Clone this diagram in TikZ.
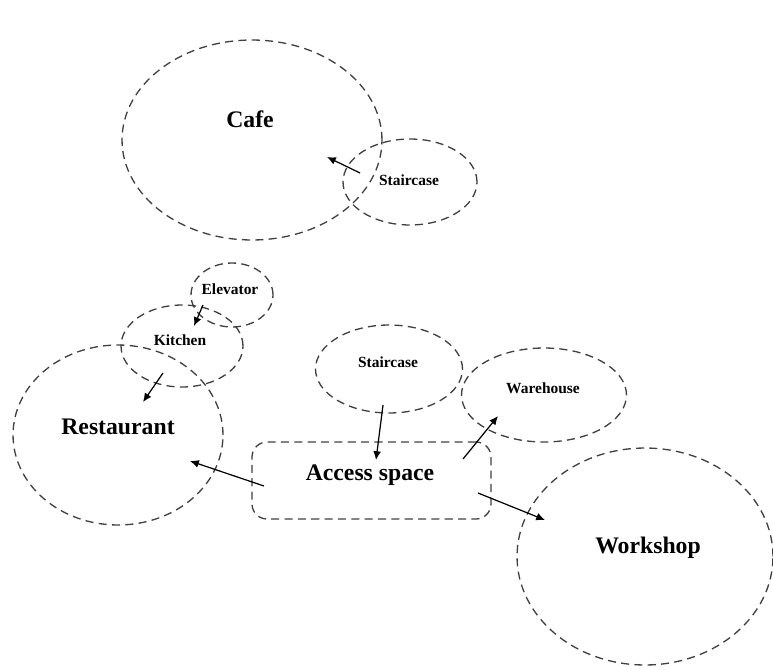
\documentclass[tikz,border=0pt]{standalone}
\usepackage{fontspec}
\setmainfont{Liberation Serif}
\usetikzlibrary{shapes.geometric,arrows.meta}
\tikzset{
  bubble/.style={draw=black!75, ellipse, inner sep=0pt, line width=0.75pt, dash pattern=on 4.6pt off 3pt},
  room/.style={draw=black!75, rectangle, rounded corners=0.3cm, inner sep=0pt, line width=0.75pt, dash pattern=on 4.6pt off 3pt},
  bigtxt/.style={font=\fontsize{13.5}{16}\selectfont\bfseries},
  smalltxt/.style={font=\fontsize{8.8}{10}\selectfont\bfseries},
  arr/.style={-{Latex[length=5pt,width=4.5pt]}, line width=0.7pt}
}
\begin{document}
\begin{tikzpicture}[x=0.02cm,y=-0.02cm]
\useasboundingbox (0,0) rectangle (773,669);
\node[bubble, minimum width=5.2cm, minimum height=4cm] (cafe) at (252,140) {};
\node[bubble, minimum width=2.68cm, minimum height=1.72cm] (stairA) at (410,182) {};
\node[bubble, minimum width=1.64cm, minimum height=1.28cm] (elevator) at (232,295) {};
\node[bubble, minimum width=2.44cm, minimum height=1.64cm] (kitchen) at (182,346) {};
\node[bubble, minimum width=4.2cm, minimum height=3.6cm] (restaurant) at (118,435) {};
\node[bubble, minimum width=2.94cm, minimum height=1.76cm] (stairB) at (389,369) {};
\node[bubble, minimum width=3.3cm, minimum height=1.88cm] (warehouse) at (544,395) {};
\node[room, minimum width=4.78cm, minimum height=1.54cm] (access) at (371.5,480.5) {};
\node[bubble, minimum width=5.12cm, minimum height=4.34cm] (workshop) at (645,556.5) {};
\node[bigtxt] (cafetxt) at (250,119) {Cafe};
\node[smalltxt] (stairAtxt) at (409,180) {Staircase};
\node[smalltxt] (elevatortxt) at (230,289) {Elevator};
\node[smalltxt] (kitchentxt) at (180,340) {Kitchen};
\node[bigtxt] (restauranttxt) at (118,427) {Restaurant};
\node[smalltxt] (stairBtxt) at (388,362) {Staircase};
\node[smalltxt] (warehousetxt) at (543,388) {Warehouse};
\node[bigtxt] (accesstxt) at (370,475) {Access space};
\node[bigtxt] (workshoptxt) at (648,548) {Workshop};
\coordinate (a1) at (360,173);
\coordinate (b1) at (327,157);
\coordinate (a2) at (203,305);
\coordinate (b2) at (194,326);
\coordinate (a3) at (163,373);
\coordinate (b3) at (143,402);
\coordinate (a4) at (383,405);
\coordinate (b4) at (376,460);
\coordinate (a5) at (463,459);
\coordinate (b5) at (498,416);
\coordinate (a6) at (478,493);
\coordinate (b6) at (545,520);
\coordinate (a7) at (264,486);
\coordinate (b7) at (190,461);
\foreach \s/\t in {a1/b1,a2/b2,a3/b3,a4/b4,a5/b5,a6/b6,a7/b7} \draw[arr] (\s) -- (\t);
\end{tikzpicture}
\end{document}
